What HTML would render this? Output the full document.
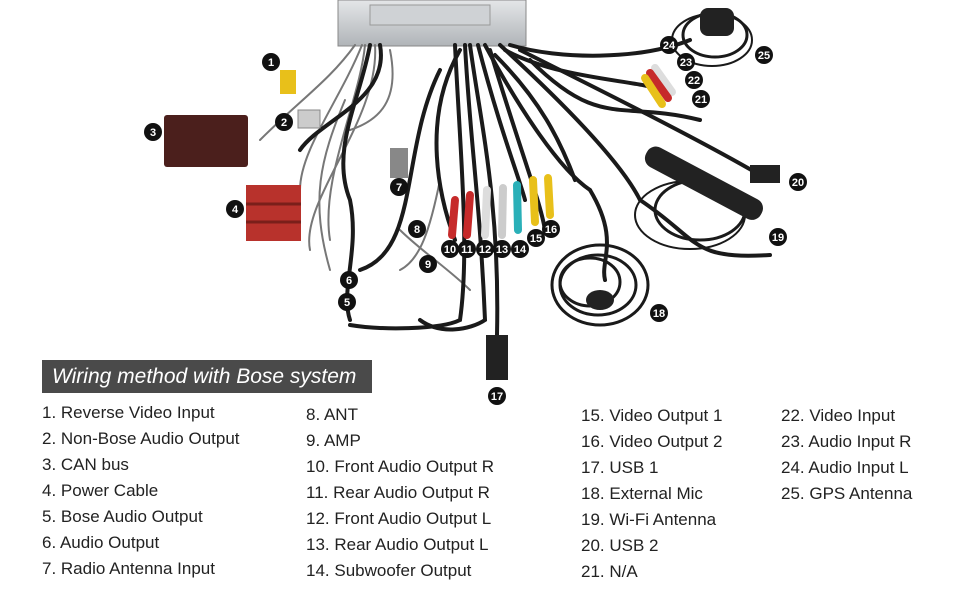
<!DOCTYPE html>
<html><head><meta charset="utf-8"><style>
body{margin:0;background:#fff;width:970px;height:600px;overflow:hidden;position:relative;font-family:"Liberation Sans",sans-serif;}
svg{position:absolute;left:0;top:0}
.hdr{position:absolute;left:42px;top:360px;width:330px;height:33px;background:#4a4a4a;color:#fff;font-style:italic;font-size:21px;line-height:33px;padding-left:10px;box-sizing:border-box;}
.col{position:absolute;font-size:17px;color:#222;line-height:26px;white-space:nowrap}
</style></head><body>
<svg width="970" height="600" viewBox="0 0 970 600">
<defs><linearGradient id="g" x1="0" y1="0" x2="0" y2="1"><stop offset="0" stop-color="#e4e6e8"/><stop offset="1" stop-color="#b0b4b8"/></linearGradient></defs>
<rect x="338" y="0" width="188" height="46" fill="url(#g)" stroke="#888"/>
<rect x="370" y="5" width="120" height="20" fill="#cfd2d5" stroke="#999"/>
<g fill="none" stroke="#777" stroke-width="2" stroke-linecap="round">
<path d="M355 45 C330 80 300 100 260 140"/>
<path d="M362 45 C340 100 300 150 300 190"/>
<path d="M365 45 C360 100 320 180 330 240"/>
<path d="M390 50 C400 100 380 120 350 130"/>
<path d="M375 45 C380 120 300 200 310 250"/>
<path d="M345 100 C320 160 310 200 330 270"/>
<path d="M400 230 C420 250 450 270 470 290"/>
<path d="M440 180 C430 230 420 260 400 270"/>
</g>
<g fill="none" stroke="#1a1a1a" stroke-width="4" stroke-linecap="round">
<path d="M370 45 C360 100 330 150 350 200 C360 250 340 290 350 320"/>
<path d="M380 45 C390 100 320 120 300 150"/>
<path d="M455 45 C460 150 470 250 460 320 C440 330 380 330 350 325"/>
<path d="M470 45 C480 120 500 200 497 335"/>
<path d="M485 45 C520 110 560 170 590 190"/>
<path d="M500 45 C560 100 620 160 640 200 C700 240 690 260 770 255"/>
<path d="M510 45 C560 60 640 60 690 40"/>
<path d="M520 50 C600 90 700 140 760 175"/>
<path d="M505 50 C560 80 640 80 660 90"/>
<path d="M460 50 C420 120 440 200 455 240"/>
<path d="M490 50 C520 150 540 200 545 230"/>
<path d="M440 70 C400 150 420 250 360 270"/>
<path d="M590 190 C620 240 600 260 605 280"/>
<path d="M478 45 C500 130 520 180 525 200"/>
<path d="M465 45 C470 140 480 200 485 320 C470 330 440 335 420 320"/>
<path d="M495 55 C540 100 560 140 575 180"/>
<path d="M530 60 C600 130 620 100 700 120"/>
</g>
<ellipse cx="600" cy="285" rx="48" ry="40" fill="none" stroke="#1a1a1a" stroke-width="3"/>
<ellipse cx="598" cy="285" rx="38" ry="30" fill="none" stroke="#1a1a1a" stroke-width="3"/>
<ellipse cx="590" cy="282" rx="30" ry="24" fill="none" stroke="#1a1a1a" stroke-width="3"/>
<ellipse cx="600" cy="300" rx="14" ry="10" fill="#222"/>
<ellipse cx="715" cy="35" rx="32" ry="22" fill="none" stroke="#1a1a1a" stroke-width="3"/>
<ellipse cx="712" cy="40" rx="40" ry="26" fill="none" stroke="#1a1a1a" stroke-width="2"/>
<rect x="700" y="8" width="34" height="28" rx="8" fill="#222"/>
<ellipse cx="700" cy="210" rx="45" ry="30" fill="none" stroke="#1a1a1a" stroke-width="3"/>
<ellipse cx="690" cy="215" rx="55" ry="34" fill="none" stroke="#1a1a1a" stroke-width="2"/>
<rect x="640" y="170" width="130" height="22" rx="10" transform="rotate(28 700 180)" fill="#222"/>
<rect x="750" y="165" width="30" height="18" fill="#222"/>
<rect x="486" y="335" width="22" height="45" fill="#222"/>
<rect x="164" y="115" width="84" height="52" rx="3" fill="#4b1f1c"/>
<rect x="246" y="185" width="55" height="56" fill="#b8322c"/>
<line x1="246" y1="204" x2="301" y2="204" stroke="#7a1f1a" stroke-width="3"/>
<line x1="246" y1="222" x2="301" y2="222" stroke="#7a1f1a" stroke-width="3"/>
<rect x="280" y="70" width="16" height="24" fill="#e8c01a"/>
<rect x="298" y="110" width="22" height="18" fill="#ccc" stroke="#888"/>
<rect x="390" y="148" width="18" height="30" fill="#888"/>
<g stroke-width="8" stroke-linecap="round">
<line x1="455" y1="200" x2="452" y2="235" stroke="#c62a2a"/>
<line x1="470" y1="195" x2="467" y2="235" stroke="#c62a2a"/>
<line x1="487" y1="190" x2="485" y2="235" stroke="#ddd"/>
<line x1="503" y1="188" x2="502" y2="235" stroke="#ccc"/>
<line x1="517" y1="185" x2="518" y2="230" stroke="#2ab0b8"/>
<line x1="533" y1="180" x2="535" y2="222" stroke="#e8c01a"/>
<line x1="548" y1="178" x2="550" y2="215" stroke="#e8c01a"/>
<line x1="655" y1="68" x2="672" y2="92" stroke="#ddd"/>
<line x1="650" y1="73" x2="668" y2="98" stroke="#c62a2a"/>
<line x1="645" y1="78" x2="662" y2="104" stroke="#e8c01a"/>
</g>
<g fill="#111">
<circle cx="271" cy="62" r="9"/><circle cx="284" cy="122" r="9"/><circle cx="153" cy="132" r="9"/><circle cx="235" cy="209" r="9"/><circle cx="347" cy="302" r="9"/><circle cx="349" cy="280" r="9"/><circle cx="399" cy="187" r="9"/><circle cx="417" cy="229" r="9"/><circle cx="428" cy="264" r="9"/><circle cx="450" cy="249" r="9"/><circle cx="467" cy="249" r="9"/><circle cx="485" cy="249" r="9"/><circle cx="502" cy="249" r="9"/><circle cx="520" cy="249" r="9"/><circle cx="536" cy="238" r="9"/><circle cx="551" cy="229" r="9"/><circle cx="497" cy="396" r="9"/><circle cx="659" cy="313" r="9"/><circle cx="778" cy="237" r="9"/><circle cx="798" cy="182" r="9"/><circle cx="701" cy="99" r="9"/><circle cx="694" cy="80" r="9"/><circle cx="686" cy="62" r="9"/><circle cx="669" cy="45" r="9"/><circle cx="764" cy="55" r="9"/>
</g>
<g font-size="11" font-weight="bold" fill="#fff" text-anchor="middle" font-family="Liberation Sans">
<text x="271" y="66">1</text><text x="284" y="126">2</text><text x="153" y="136">3</text><text x="235" y="213">4</text><text x="347" y="306">5</text><text x="349" y="284">6</text><text x="399" y="191">7</text><text x="417" y="233">8</text><text x="428" y="268">9</text><text x="450" y="253">10</text><text x="467" y="253">11</text><text x="485" y="253">12</text><text x="502" y="253">13</text><text x="520" y="253">14</text><text x="536" y="242">15</text><text x="551" y="233">16</text><text x="497" y="400">17</text><text x="659" y="317">18</text><text x="778" y="241">19</text><text x="798" y="186">20</text><text x="701" y="103">21</text><text x="694" y="84">22</text><text x="686" y="66">23</text><text x="669" y="49">24</text><text x="764" y="59">25</text>
</g>
</svg>
<div class="hdr">Wiring method with Bose system</div>
<div class="col" style="left:42px;top:400px">1. Reverse Video Input<br>2. Non-Bose Audio Output<br>3. CAN bus<br>4. Power Cable<br>5. Bose Audio Output<br>6. Audio Output<br>7. Radio Antenna Input</div>
<div class="col" style="left:306px;top:402px">8. ANT<br>9. AMP<br>10. Front Audio Output R<br>11. Rear Audio Output R<br>12. Front Audio Output L<br>13. Rear Audio Output L<br>14. Subwoofer Output</div>
<div class="col" style="left:581px;top:403px">15. Video Output 1<br>16. Video Output 2<br>17. USB 1<br>18. External Mic<br>19. Wi-Fi Antenna<br>20. USB 2<br>21. N/A</div>
<div class="col" style="left:781px;top:403px">22. Video Input<br>23. Audio Input R<br>24. Audio Input L<br>25. GPS Antenna</div>
</body></html>
